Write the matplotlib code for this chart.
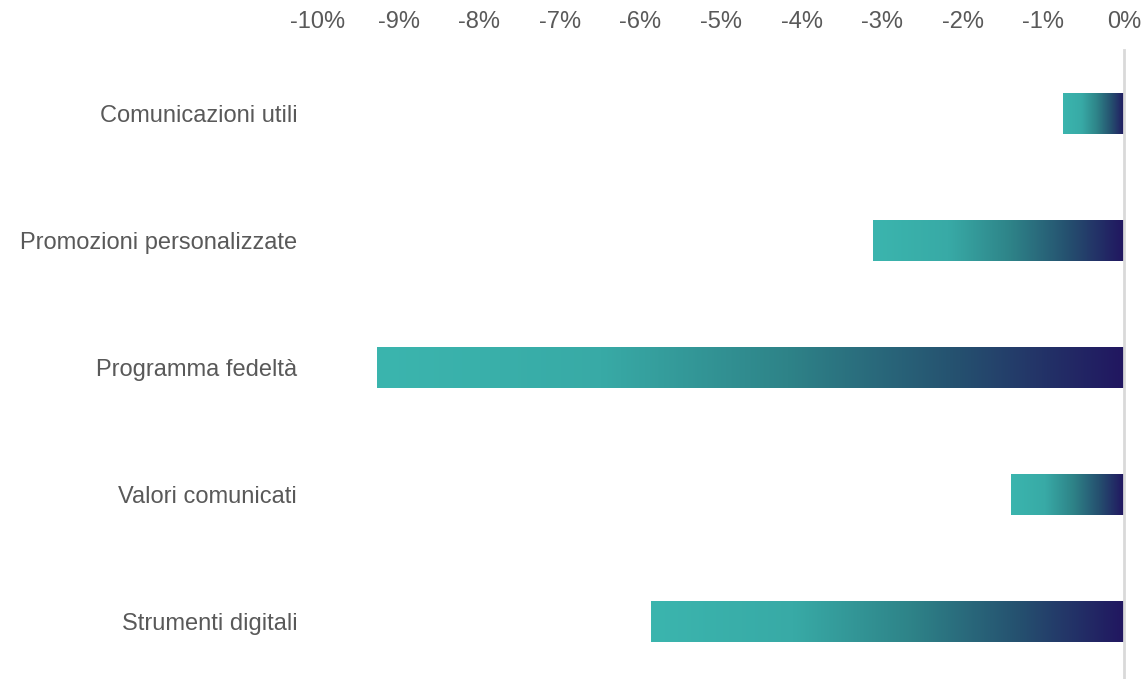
import matplotlib
matplotlib.use("Agg")
import matplotlib.pyplot as plt
import numpy as np
from matplotlib.colors import LinearSegmentedColormap
from matplotlib.ticker import FuncFormatter

plt.rcParams['font.family'] = ['Liberation Sans', 'DejaVu Sans']

categories = ["Comunicazioni utili", "Promozioni personalizzate", "Programma fedeltà",
              "Valori comunicati", "Strumenti digitali"]
values = [-0.76, -3.11, -9.27, -1.40, -5.87]
tick_values = list(range(-10, 1))

text_color = "#595959"
grad = LinearSegmentedColormap.from_list(
    "teal_navy",
    [(0.0, "#3BB5AE"), (0.3, "#38AAA6"), (0.55, "#2E8388"),
     (0.78, "#25506F"), (1.0, "#211660")])

W, H = 1148, 679
fig = plt.figure(figsize=(W / 100, H / 100), dpi=100)
ax_top, ax_bottom = 50, 685
ax = fig.add_axes([318 / W, 1 - ax_bottom / H, (1124 - 318) / W, (ax_bottom - ax_top) / H])

ypos = np.arange(len(categories))
bar_h = 0.315
bars = ax.barh(ypos, values, height=bar_h, color="none", edgecolor="none")

gradient = np.linspace(0, 1, 256).reshape(1, -1)
for rect in bars:
    x0 = rect.get_x()
    w = rect.get_width()
    y0 = rect.get_y()
    h = rect.get_height()
    left, right = min(x0, x0 + w), max(x0, x0 + w)
    ax.imshow(gradient, cmap=grad, aspect="auto", interpolation="bilinear",
              extent=[left, right, y0 + h, y0], zorder=2)

ax.set_xlim(-10, 0)
ax.set_ylim(len(categories) - 0.5, -0.5)
ax.axvline(0, color="#D9D9D9", lw=2, zorder=3, clip_on=False)

ax.set_xticks(tick_values)
ax.xaxis.set_major_formatter(FuncFormatter(lambda v, p: f"{int(round(v))}%"))
ax.xaxis.tick_top()
ax.tick_params(axis="x", length=0, pad=12, labelsize=17, labelcolor=text_color)
ax.set_yticks(ypos)
ax.set_yticklabels(categories)
ax.tick_params(axis="y", length=0, pad=15, labelsize=17, labelcolor=text_color)

for s in ax.spines.values():
    s.set_visible(False)

fig.savefig("out.png", dpi=100, facecolor="white")
